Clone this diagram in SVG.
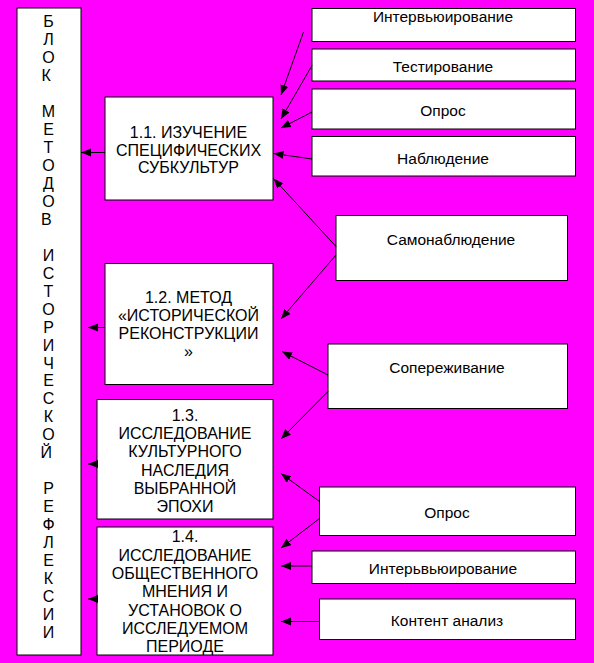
<svg xmlns="http://www.w3.org/2000/svg" width="594" height="663" viewBox="0 0 594 663">
<style>
.box{fill:#fff;stroke:#000;stroke-width:1}
text{font-family:"Liberation Sans",Arial,sans-serif;fill:#000}
.t{font-size:16px;text-anchor:middle}
.r{font-size:15.5px;text-anchor:middle}
.c{stroke:#000;stroke-width:1;fill:none;marker-end:url(#ah)}
</style>
<defs>
<marker id="ah" markerUnits="userSpaceOnUse" markerWidth="11" markerHeight="9" refX="10" refY="4" orient="auto" viewBox="0 0 11 9">
<path d="M0,0 L10,4 L0,8 z" fill="#000"/>
</marker>
</defs>
<rect x="0" y="0" width="594" height="663" fill="#FF00FF"/>
<g id="block">
<rect class="box" x="17" y="8" width="64" height="647"/>
<text class="t">
<tspan x="48.5" y="27.4">Б</tspan><tspan x="48.5" y="45.4">Л</tspan><tspan x="48.5" y="63.3">О</tspan><tspan x="48.5" y="81.3">К</tspan>
<tspan x="48.5" y="117.2">М</tspan><tspan x="48.5" y="135.1">Е</tspan><tspan x="48.5" y="153.1">Т</tspan><tspan x="48.5" y="171">О</tspan><tspan x="48.5" y="189">Д</tspan><tspan x="48.5" y="206.9">О</tspan><tspan x="48.5" y="224.9">В</tspan>
<tspan x="48.5" y="260.8">И</tspan><tspan x="48.5" y="278.7">С</tspan><tspan x="48.5" y="296.7">Т</tspan><tspan x="48.5" y="314.6">О</tspan><tspan x="48.5" y="332.6">Р</tspan><tspan x="48.5" y="350.5">И</tspan><tspan x="48.5" y="368.5">Ч</tspan><tspan x="48.5" y="386.4">Е</tspan><tspan x="48.5" y="404.4">С</tspan><tspan x="48.5" y="422.3">К</tspan><tspan x="48.5" y="440.3">О</tspan><tspan x="48.5" y="458.2">Й</tspan>
<tspan x="48.5" y="494.1">Р</tspan><tspan x="48.5" y="512.1">Е</tspan><tspan x="48.5" y="530">Ф</tspan><tspan x="48.5" y="548">Л</tspan><tspan x="48.5" y="565.9">Е</tspan><tspan x="48.5" y="583.9">К</tspan><tspan x="48.5" y="601.8">С</tspan><tspan x="48.5" y="619.8">И</tspan><tspan x="48.5" y="637.7">И</tspan>
</text>
</g>
<g id="n11">
<rect class="box" x="105" y="97" width="168" height="103"/>
<text class="t"><tspan x="188.5" y="137.5">1.1. ИЗУЧЕНИЕ</tspan><tspan x="188.5" y="155.5">СПЕЦИФИЧЕСКИХ</tspan><tspan x="188.5" y="173">СУБКУЛЬТУР</tspan></text>
</g>
<g id="n12">
<rect class="box" x="105" y="263.5" width="168" height="121"/>
<text class="t"><tspan x="188.5" y="303">1.2. МЕТОД</tspan><tspan x="188.5" y="321">«ИСТОРИЧЕСКОЙ</tspan><tspan x="188.5" y="339">РЕКОНСТРУКЦИИ</tspan><tspan x="188.5" y="357">»</tspan></text>
</g>
<g id="n13">
<rect class="box" x="97" y="399.5" width="176" height="119.5"/>
<text class="t"><tspan x="185" y="420.7">1.3.</tspan><tspan x="185" y="439">ИССЛЕДОВАНИЕ</tspan><tspan x="185" y="457.4">КУЛЬТУРНОГО</tspan><tspan x="185" y="475.7">НАСЛЕДИЯ</tspan><tspan x="185" y="494">ВЫБРАННОЙ</tspan><tspan x="185" y="512.4">ЭПОХИ</tspan></text>
</g>
<g id="n14">
<rect class="box" x="97" y="527" width="176" height="128"/>
<text class="t"><tspan x="185" y="542.4">1.4.</tspan><tspan x="185" y="560.7">ИССЛЕДОВАНИЕ</tspan><tspan x="185" y="579">ОБЩЕСТВЕННОГО</tspan><tspan x="185" y="597.4">МНЕНИЯ И</tspan><tspan x="185" y="615.7">УСТАНОВОК О</tspan><tspan x="185" y="634">ИССЛЕДУЕМОМ</tspan><tspan x="185" y="652">ПЕРИОДЕ</tspan></text>
</g>
<g id="r1"><rect class="box" x="312" y="8.5" width="263.5" height="33"/><text class="r" x="443" y="21.5">Интервьюирование</text></g>
<g id="r2"><rect class="box" x="312" y="49" width="263.5" height="32"/><text class="r" x="443" y="72.2">Тестирование</text></g>
<g id="r3"><rect class="box" x="312" y="89" width="263.5" height="40"/><text class="r" x="443" y="115.5">Опрос</text></g>
<g id="r4"><rect class="box" x="312" y="136.5" width="263.5" height="39.5"/><text class="r" x="443" y="163.8">Наблюдение</text></g>
<g id="r5"><rect class="box" x="336" y="215.5" width="231.5" height="65"/><text class="r" x="451" y="244.8">Самонаблюдение</text></g>
<g id="r6"><rect class="box" x="328" y="344" width="239.5" height="64.5"/><text class="r" x="447" y="372.8">Сопереживание</text></g>
<g id="r7"><rect class="box" x="319.5" y="487" width="256" height="48.5"/><text class="r" x="447" y="518.2">Опрос</text></g>
<g id="r8"><rect class="box" x="312" y="551" width="263.5" height="32.5"/><text class="r" x="443" y="573.8">Интерьвьюирование</text></g>
<g id="r9"><rect class="box" x="319.5" y="599" width="256" height="40.5"/><text class="r" x="447" y="625.5">Контент анализ</text></g>
<g id="connectors">
<line class="c" x1="105" y1="152.5" x2="81" y2="152.5"/>
<line class="c" x1="105" y1="327.5" x2="88" y2="327.5"/>
<line class="c" x1="97" y1="464" x2="88" y2="464"/>
<line class="c" x1="97" y1="599" x2="88" y2="599"/>
<line class="c" x1="303.5" y1="32" x2="281" y2="95"/>
<line class="c" x1="312" y1="65.5" x2="281" y2="119"/>
<line class="c" x1="312" y1="112" x2="281" y2="128"/>
<line class="c" x1="312" y1="159" x2="273.5" y2="153.5"/>
<line class="c" x1="336" y1="246.5" x2="273.5" y2="178.5"/>
<line class="c" x1="336" y1="255" x2="281" y2="319"/>
<line class="c" x1="328" y1="375" x2="282" y2="351.5"/>
<line class="c" x1="328" y1="391.5" x2="281" y2="439"/>
<line class="c" x1="319.5" y1="501.5" x2="281" y2="473.5"/>
<line class="c" x1="319.5" y1="518.5" x2="281" y2="548"/>
<line class="c" x1="312" y1="566" x2="281" y2="566"/>
<line class="c" x1="319.5" y1="621.5" x2="281" y2="621.5"/>
</g>
</svg>
